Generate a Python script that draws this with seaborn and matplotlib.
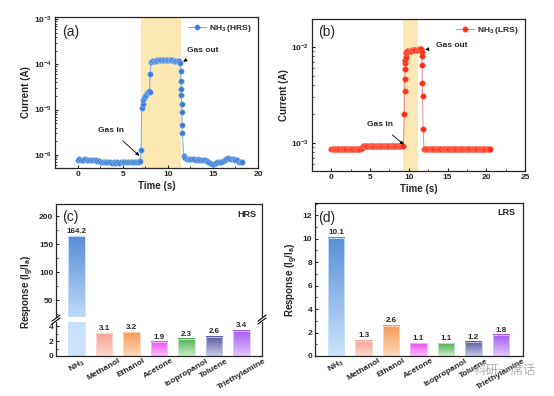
import numpy as np
import matplotlib
matplotlib.use("Agg")
import matplotlib.pyplot as plt
from matplotlib.colors import LinearSegmentedColormap
from matplotlib.ticker import MultipleLocator, NullFormatter
import seaborn as sns

# ---- data ----
# (a) NH3 response, HRS
hrs_time = [0.0, 0.2, 0.4, 0.6, 0.8, 1.0, 1.2, 1.4, 1.6, 1.8, 2.0, 2.2, 2.4, 2.6, 2.8, 3.0,
            3.2, 3.4, 3.6, 3.8, 4.0, 4.2, 4.4, 4.6, 4.8, 5.0, 5.2, 5.4, 5.6, 5.8, 6.0, 6.2,
            6.4, 6.6, 6.8, 6.95,
            7.04, 7.1, 7.2, 7.3, 7.4, 7.5, 7.6, 7.7, 7.8, 7.9, 7.98, 8.05, 8.15,
            8.25, 8.4, 8.55, 8.7, 8.85, 9.0, 9.15, 9.3, 9.45, 9.6, 9.75, 9.9, 10.05, 10.2,
            10.35, 10.5, 10.65, 10.8, 10.95, 11.1, 11.25, 11.35,
            11.42, 11.45, 11.48, 11.5, 11.53, 11.56, 11.6, 11.63, 11.75,
            11.9, 12.1, 12.3, 12.5, 12.7, 12.9, 13.1, 13.3, 13.5, 13.7, 13.9, 14.1, 14.3,
            14.5, 14.7, 14.9, 15.1, 15.3, 15.5, 15.7, 15.9, 16.1, 16.3, 16.5, 16.7, 16.9,
            17.1, 17.3, 17.5, 17.7, 17.9, 18.1, 18.2]
hrs_current = [7.8e-7, 7.9e-7, 7.7e-7, 7.8e-7, 7.9e-7, 7.8e-7, 7.7e-7, 7.8e-7, 7.6e-7, 7.7e-7,
               7.5e-7, 7.4e-7, 7.3e-7, 7.0e-7, 7.1e-7, 6.9e-7, 7.0e-7, 6.8e-7, 6.9e-7, 6.7e-7,
               6.8e-7, 6.7e-7, 6.8e-7, 6.6e-7, 6.8e-7, 6.9e-7, 7.0e-7, 6.8e-7, 6.9e-7, 7.0e-7,
               6.8e-7, 7.0e-7, 6.9e-7, 7.1e-7, 7.0e-7, 7.3e-7,
               1.25e-6, 1.1e-5, 1.35e-5, 1.6e-5, 1.85e-5, 2.0e-5, 2.15e-5, 2.3e-5, 2.45e-5,
               2.6e-5, 2.5e-5, 6.0e-5, 1.12e-4,
               1.16e-4, 1.19e-4, 1.21e-4, 1.22e-4, 1.23e-4, 1.24e-4, 1.24e-4, 1.25e-4, 1.25e-4,
               1.25e-4, 1.24e-4, 1.25e-4, 1.24e-4, 1.24e-4, 1.23e-4, 1.23e-4, 1.22e-4, 1.21e-4,
               1.20e-4, 1.18e-4, 1.16e-4, 1.1e-4,
               7.1e-5, 4.3e-5, 2.9e-5, 2.1e-5, 1.35e-5, 8.9e-6, 4.5e-6, 3.0e-6, 9.5e-7,
               8.5e-7, 8.2e-7, 8.0e-7, 8.1e-7, 7.9e-7, 8.0e-7, 7.8e-7, 7.9e-7, 7.7e-7, 7.8e-7,
               7.6e-7, 7.5e-7, 7.3e-7, 7.0e-7, 6.7e-7, 6.4e-7, 6.3e-7, 6.6e-7, 6.9e-7, 6.8e-7,
               7.0e-7, 7.3e-7, 7.8e-7, 8.1e-7, 8.3e-7, 8.2e-7, 8.1e-7, 8.0e-7, 7.7e-7, 7.5e-7,
               7.1e-7, 6.9e-7, 6.9e-7]

# (b) NH3 response, LRS
lrs_time = [0.0, 0.15, 0.3, 0.45, 0.6, 0.75, 0.9, 1.05, 1.2, 1.35, 1.5, 1.65, 1.8, 1.95,
            2.1, 2.25, 2.4, 2.55, 2.7, 2.85, 3.0, 3.15, 3.3, 3.45, 3.6, 3.75, 3.9,
            4.05, 4.2, 4.35, 4.5, 4.65, 4.8, 4.95, 5.1, 5.25, 5.4, 5.55, 5.7, 5.85, 6.0,
            6.15, 6.3, 6.45, 6.6, 6.75, 6.9, 7.05, 7.2, 7.35, 7.5, 7.65, 7.8, 7.95, 8.1,
            8.25, 8.4, 8.55, 8.7, 8.85, 9.0, 9.15, 9.3,
            9.42, 9.45, 9.48, 9.5, 9.52, 9.55, 9.58, 9.62, 9.68,
            9.8, 9.95, 10.1, 10.25, 10.4, 10.55, 10.7, 10.85, 11.0, 11.15, 11.3, 11.45, 11.6,
            11.65, 11.68, 11.7, 11.75, 11.78, 11.85, 11.95,
            12.1, 12.25, 12.4, 12.55, 12.7, 12.85, 13.0, 13.15, 13.3, 13.45, 13.6, 13.75,
            13.9, 14.05, 14.2, 14.35, 14.5, 14.65, 14.8, 14.95, 15.1, 15.25, 15.4, 15.55,
            15.7, 15.85, 16.0, 16.15, 16.3, 16.45, 16.6, 16.75, 16.9, 17.05, 17.2, 17.35,
            17.5, 17.65, 17.8, 17.95, 18.1, 18.25, 18.4, 18.55, 18.7, 18.85, 19.0, 19.15,
            19.3, 19.45, 19.6, 19.75, 19.9, 20.05, 20.2, 20.35, 20.5]
lrs_current = [8.7e-4, 8.7e-4, 8.7e-4, 8.7e-4, 8.7e-4, 8.7e-4, 8.7e-4, 8.7e-4, 8.7e-4,
               8.7e-4, 8.7e-4, 8.7e-4, 8.7e-4, 8.7e-4, 8.7e-4, 8.7e-4, 8.7e-4, 8.7e-4,
               8.7e-4, 8.7e-4, 8.7e-4, 8.7e-4, 8.7e-4, 8.7e-4, 8.7e-4, 8.7e-4, 8.8e-4,
               9.2e-4, 9.2e-4, 9.2e-4, 9.2e-4, 9.2e-4, 9.2e-4, 9.2e-4, 9.2e-4, 9.2e-4,
               9.2e-4, 9.2e-4, 9.2e-4, 9.2e-4, 9.2e-4, 9.2e-4, 9.2e-4, 9.2e-4, 9.2e-4,
               9.2e-4, 9.2e-4, 9.2e-4, 9.2e-4, 9.2e-4, 9.2e-4, 9.2e-4, 9.2e-4, 9.2e-4,
               9.2e-4, 9.2e-4, 9.2e-4, 9.2e-4, 9.2e-4, 9.2e-4, 9.2e-4, 9.2e-4, 9.2e-4,
               2.0e-3, 3.5e-3, 4.6e-3, 5.9e-3, 6.7e-3, 7.3e-3, 7.9e-3, 8.5e-3, 8.9e-3,
               9.0e-3, 9.05e-3, 9.1e-3, 9.1e-3, 9.15e-3, 9.2e-3, 9.2e-3, 9.25e-3, 9.3e-3,
               9.3e-3, 9.35e-3, 9.4e-3, 9.4e-3,
               8.9e-3, 8.0e-3, 6.5e-3, 4.2e-3, 3.1e-3, 1.4e-3, 8.6e-4,
               8.6e-4, 8.6e-4, 8.6e-4, 8.6e-4, 8.6e-4, 8.6e-4, 8.6e-4, 8.6e-4, 8.6e-4,
               8.6e-4, 8.6e-4, 8.6e-4, 8.6e-4, 8.6e-4, 8.6e-4, 8.6e-4, 8.6e-4, 8.6e-4,
               8.6e-4, 8.6e-4, 8.6e-4, 8.6e-4, 8.6e-4, 8.6e-4, 8.6e-4, 8.6e-4, 8.6e-4,
               8.6e-4, 8.6e-4, 8.6e-4, 8.6e-4, 8.6e-4, 8.6e-4, 8.6e-4, 8.6e-4, 8.6e-4,
               8.6e-4, 8.6e-4, 8.6e-4, 8.6e-4, 8.6e-4, 8.6e-4, 8.6e-4, 8.6e-4, 8.6e-4,
               8.6e-4, 8.6e-4, 8.6e-4, 8.6e-4, 8.6e-4, 8.6e-4, 8.6e-4, 8.6e-4, 8.6e-4,
               8.6e-4, 8.6e-4, 8.6e-4]

# (c)/(d) responses
gases = ['NH$_3$', 'Methanol', 'Ethanol', 'Acetone', 'Isopropanol', 'Toluene', 'Triethylamine']
hrs_response = [164.2, 3.1, 3.2, 1.9, 2.3, 2.6, 3.4]
lrs_response = [10.1, 1.3, 2.6, 1.1, 1.1, 1.2, 1.8]

bar_top = ['#5a8ed6', '#f4a394', '#f69a55', '#ee50f0', '#52ae52', '#5a5a9c', '#a657f2']
bar_bottom = ['#cbe4fc', '#fcd8d0', '#fdd9bb', '#f9bcfb', '#c8edc8', '#c8c8ea', '#e2c8fb']

# ---- style ----
sns.set_style('ticks', {'xtick.direction': 'in', 'ytick.direction': 'in'})
plt.rcParams['font.family'] = ['Liberation Sans', 'DejaVu Sans']
plt.rcParams['font.weight'] = 'bold'
plt.rcParams['axes.labelweight'] = 'bold'
plt.rcParams['mathtext.default'] = 'regular'
plt.rcParams['axes.linewidth'] = 0.9
plt.rcParams['xtick.major.size'] = 2.5
plt.rcParams['ytick.major.size'] = 2.5
plt.rcParams['xtick.minor.size'] = 1.5
plt.rcParams['ytick.minor.size'] = 1.5
plt.rcParams['xtick.major.pad'] = 2
plt.rcParams['ytick.major.pad'] = 2

W, H = 554, 396
fig = plt.figure(figsize=(W / 100, H / 100), dpi=100)


def box(left, top, right, bottom):
    return [left / W, 1 - bottom / H, (right - left) / W, (bottom - top) / H]


TICK_FS = 6
LABEL_FS = 7


def time_panel(rect, t, cur, line_c, face_c, edge_c, label, xlim, ylim, span, tag, tag_xy):
    ax = fig.add_axes(rect)
    ax.axvspan(span[0], span[1], color='#fde8b4', lw=0, zorder=0)
    sns.lineplot(x=t, y=cur, ax=ax, estimator=None, sort=False, color=line_c, lw=0.7,
                 marker='o', markersize=4.0, markerfacecolor=face_c, markeredgecolor=edge_c,
                 markeredgewidth=0.4, label=label, zorder=3)
    ax.set_yscale('log')
    ax.set_xlim(*xlim)
    ax.set_ylim(*ylim)
    ax.xaxis.set_major_locator(MultipleLocator(5))
    ax.xaxis.set_minor_locator(MultipleLocator(2.5))
    ax.yaxis.set_minor_formatter(NullFormatter())
    ax.tick_params(labelsize=TICK_FS)
    ax.set_xlabel('Time (s)', fontsize=LABEL_FS, labelpad=2)
    ax.set_ylabel('Current (A)', fontsize=LABEL_FS, labelpad=2)
    ax.legend(loc='upper right', frameon=False, fontsize=6, handlelength=2.2,
              borderaxespad=0.3, handletextpad=0.4)
    ax.text(tag_xy[0], tag_xy[1], tag, transform=ax.transAxes, fontsize=10,
            fontweight='normal', ha='center', va='center')
    return ax


def arrow(ax, text, xy, xytext):
    ax.annotate(text, xy=xy, xytext=xytext, fontsize=6, fontweight='bold',
                ha='center', va='center',
                arrowprops=dict(arrowstyle='-|>', color='black', lw=0.6,
                                mutation_scale=5, shrinkA=4, shrinkB=0))


ax_a = time_panel(box(55, 17, 258, 168), hrs_time, hrs_current, '#6fa6e2', '#3a7cd5',
                  '#9cc3ee', 'NH$_3$ (HRS)', (-2.5, 20), (5.1e-7, 1.12e-3), (7.05, 11.5),
                  '(a)', (0.078, 0.9))
arrow(ax_a, 'Gas in', (6.85, 9.5e-7), (3.7, 3.5e-6))
arrow(ax_a, 'Gas out', (11.7, 1.15e-4), (13.9, 2.05e-4))

ax_b = time_panel(box(312, 19, 525, 171), lrs_time, lrs_current, '#f08a84', '#ff2a12',
                  '#ff7a6a', 'NH$_3$ (LRS)', (-2.5, 25), (5.1e-4, 1.94e-2), (9.2, 11.2),
                  '(b)', (0.07, 0.916))
arrow(ax_b, 'Gas in', (9.35, 9.6e-4), (6.3, 1.55e-3))
arrow(ax_b, 'Gas out', (12.1, 9.3e-3), (15.5, 1.03e-2))


def gradient_bars(ax, values):
    sns.barplot(x=gases, y=values, hue=gases, palette=bar_top, legend=False,
                width=0.6, ax=ax, zorder=2)
    for patch, c_top, c_bot in zip(ax.patches, bar_top, bar_bottom):
        x0, y0 = patch.get_x(), patch.get_y()
        w, h = patch.get_width(), patch.get_height()
        cmap = LinearSegmentedColormap.from_list('grad', [c_bot, c_top])
        ax.imshow(np.linspace(0, 1, 128).reshape(-1, 1), extent=[x0, x0 + w, y0, y0 + h],
                  origin='lower', aspect='auto', cmap=cmap, zorder=2)
        patch.set_facecolor('none')
        patch.set_edgecolor(c_bot)
        patch.set_linewidth(0.6)
        patch.set_zorder(3)


def rotate_labels(ax):
    ax.set_xticks(range(len(gases)))
    ax.set_xticklabels(gases, rotation=30, ha='center', fontsize=TICK_FS)
    ax.tick_params(axis='x', length=0, pad=1)


# (c) broken axis
ax_c1 = fig.add_axes(box(56, 204, 262, 317))
ax_c2 = fig.add_axes(box(56, 322, 262, 356))
for ax in (ax_c1, ax_c2):
    gradient_bars(ax, hrs_response)
    ax.set_xlim(-0.75, 6.75)
    ax.set_xlabel('')
    ax.set_ylabel('')
ax_c1.set_ylim(20, 222)
ax_c2.set_ylim(0, 4.6)
ax_c1.yaxis.set_major_locator(MultipleLocator(50))
ax_c1.yaxis.set_minor_locator(MultipleLocator(25))
ax_c2.yaxis.set_major_locator(MultipleLocator(2))
ax_c2.yaxis.set_minor_locator(MultipleLocator(1))
ax_c1.spines['bottom'].set_visible(False)
ax_c2.spines['top'].set_visible(False)
ax_c1.tick_params(axis='x', bottom=False, labelbottom=False)
ax_c1.tick_params(axis='y', labelsize=TICK_FS)
ax_c2.tick_params(axis='y', labelsize=TICK_FS)
rotate_labels(ax_c2)
ax_c1.bar_label(ax_c1.containers[0], fmt='%.1f', fontsize=5.8, fontweight='bold', padding=1)
for cont in ax_c2.containers[1:]:
    ax_c2.bar_label(cont, fmt='%.1f', fontsize=5.8, fontweight='bold', padding=1)
ax_c1.text(0.068, 0.885, '(c)', transform=ax_c1.transAxes, fontsize=10,
           fontweight='normal', ha='center', va='center')
ax_c1.text(0.925, 0.91, 'HRS', transform=ax_c1.transAxes, fontsize=6.5, ha='center',
           va='center')
fig.text(28 / W, 1 - 292 / H, 'Response (I$_g$/I$_a$)', rotation=90, fontsize=LABEL_FS,
         ha='center', va='center')

# break marks
dx, dy1, dy2 = 4 / 206, 3 / 113, 3 / 34
for xs in (0, 1):
    ax_c1.plot([xs - dx, xs + dx], [-dy1 - 0.01, dy1 - 0.01], transform=ax_c1.transAxes,
               color='black', lw=0.8, clip_on=False)
    ax_c2.plot([xs - dx, xs + dx], [1 - dy2 + 0.03, 1 + dy2 + 0.03], transform=ax_c2.transAxes,
               color='black', lw=0.8, clip_on=False)

# (d)
ax_d = fig.add_axes(box(315, 203, 523, 356))
gradient_bars(ax_d, lrs_response)
ax_d.set_xlim(-0.77, 6.8)
ax_d.set_ylim(0, 13.05)
ax_d.yaxis.set_major_locator(MultipleLocator(2))
ax_d.yaxis.set_minor_locator(MultipleLocator(1))
ax_d.tick_params(axis='y', labelsize=TICK_FS)
rotate_labels(ax_d)
for cont in ax_d.containers:
    ax_d.bar_label(cont, fmt='%.1f', fontsize=5.8, fontweight='bold', padding=1)
ax_d.set_xlabel('')
ax_d.set_ylabel('Response (I$_g$/I$_a$)', fontsize=LABEL_FS, labelpad=2)
ax_d.text(0.058, 0.9, '(d)', transform=ax_d.transAxes, fontsize=10,
          fontweight='normal', ha='center', va='center')
ax_d.text(0.918, 0.935, 'LRS', transform=ax_d.transAxes, fontsize=6.5, ha='center',
          va='center')

# watermark
fig.text(474 / W, 1 - 370 / H, '科研一席话', family=['Noto Sans CJK SC'], fontsize=9,
         fontweight='normal', color='#9a9a9a', alpha=0.8, ha='left', va='center')

fig.savefig('out.png', dpi=100)
